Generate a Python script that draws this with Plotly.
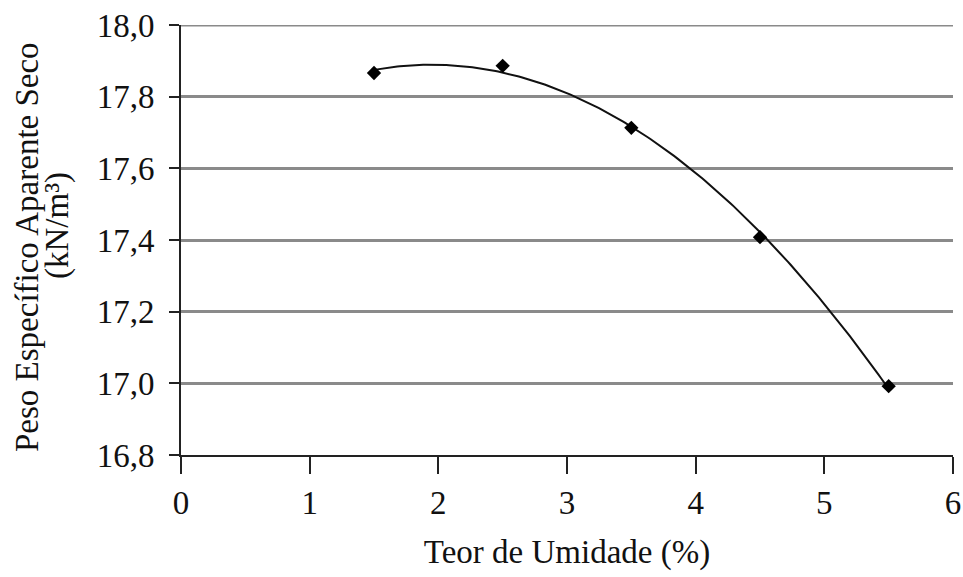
import numpy as np
import plotly.graph_objects as go

# Moisture content (%) and dry unit weight (kN/m³)
teor_umidade = [1.5, 2.5, 3.5, 4.5, 5.5]
peso_especifico = [17.866, 17.886, 17.713, 17.408, 16.992]

x_ticks = [0, 1, 2, 3, 4, 5, 6]
y_ticks = [16.8, 17.0, 17.2, 17.4, 17.6, 17.8, 18.0]

# Second-order polynomial trendline through the measured points
coef = np.polyfit(teor_umidade, peso_especifico, 2)
x_fit = np.linspace(min(teor_umidade), max(teor_umidade), 200)
y_fit = np.polyval(coef, x_fit)

FONT = "'Liberation Serif', 'Times New Roman', Times, serif"
GRID = "#8a8a8a"
FS = 33

fig = go.Figure()
fig.add_trace(go.Scatter(
    x=x_fit, y=y_fit, mode="lines",
    line=dict(color="#111111", width=2),
    hoverinfo="skip", showlegend=False,
))
fig.add_trace(go.Scatter(
    x=teor_umidade, y=peso_especifico, mode="markers",
    marker=dict(symbol="diamond", size=11, color="#000000"),
    showlegend=False,
))

fig.update_layout(
    width=963, height=577,
    margin=dict(l=181, r=10, t=25, b=122, autoexpand=False),
    paper_bgcolor="white", plot_bgcolor="white",
    separators=",.",
    font=dict(family=FONT, size=FS, color="#111111"),
    xaxis=dict(
        range=[0, 6], tickvals=x_ticks, ticktext=[str(v) for v in x_ticks],
        showgrid=False, zeroline=False,
        showline=True, linecolor="#222222", linewidth=2,
        ticks="outside", ticklen=17, tickwidth=2, tickcolor="#222222",
        ticklabelstandoff=0,
        title=dict(text="Teor de Umidade (%)", standoff=20,
                   font=dict(family=FONT, size=FS)),
    ),
    yaxis=dict(
        range=[16.8, 18.0], tickvals=y_ticks, tickformat=".1f",
        showgrid=True, gridcolor=GRID, gridwidth=3,
        zeroline=False,
        showline=True, linecolor="#222222", linewidth=2,
        ticks="outside", ticklen=10, tickwidth=2, tickcolor="#222222",
        ticklabelstandoff=8,
    ),
)

# Gridline at the top of the value range
fig.add_shape(
    type="line", xref="paper", yref="y",
    x0=0, x1=1, y0=y_ticks[-1], y1=y_ticks[-1],
    line=dict(color=GRID, width=3), layer="below",
)

# Two-line vertical title for the y axis
fig.add_annotation(
    text="Peso Específico Aparente Seco", textangle=-90,
    xref="paper", yref="paper", x=0, y=0.5,
    xanchor="center", yanchor="middle", xshift=-154, yshift=-7, showarrow=False,
    font=dict(family=FONT, size=FS, color="#111111"),
)
fig.add_annotation(
    text="(kN/m³)", textangle=-90,
    xref="paper", yref="paper", x=0, y=0.5,
    xanchor="center", yanchor="middle", xshift=-124, yshift=14, showarrow=False,
    font=dict(family=FONT, size=FS, color="#111111"),
)

fig.write_html("out.html")
